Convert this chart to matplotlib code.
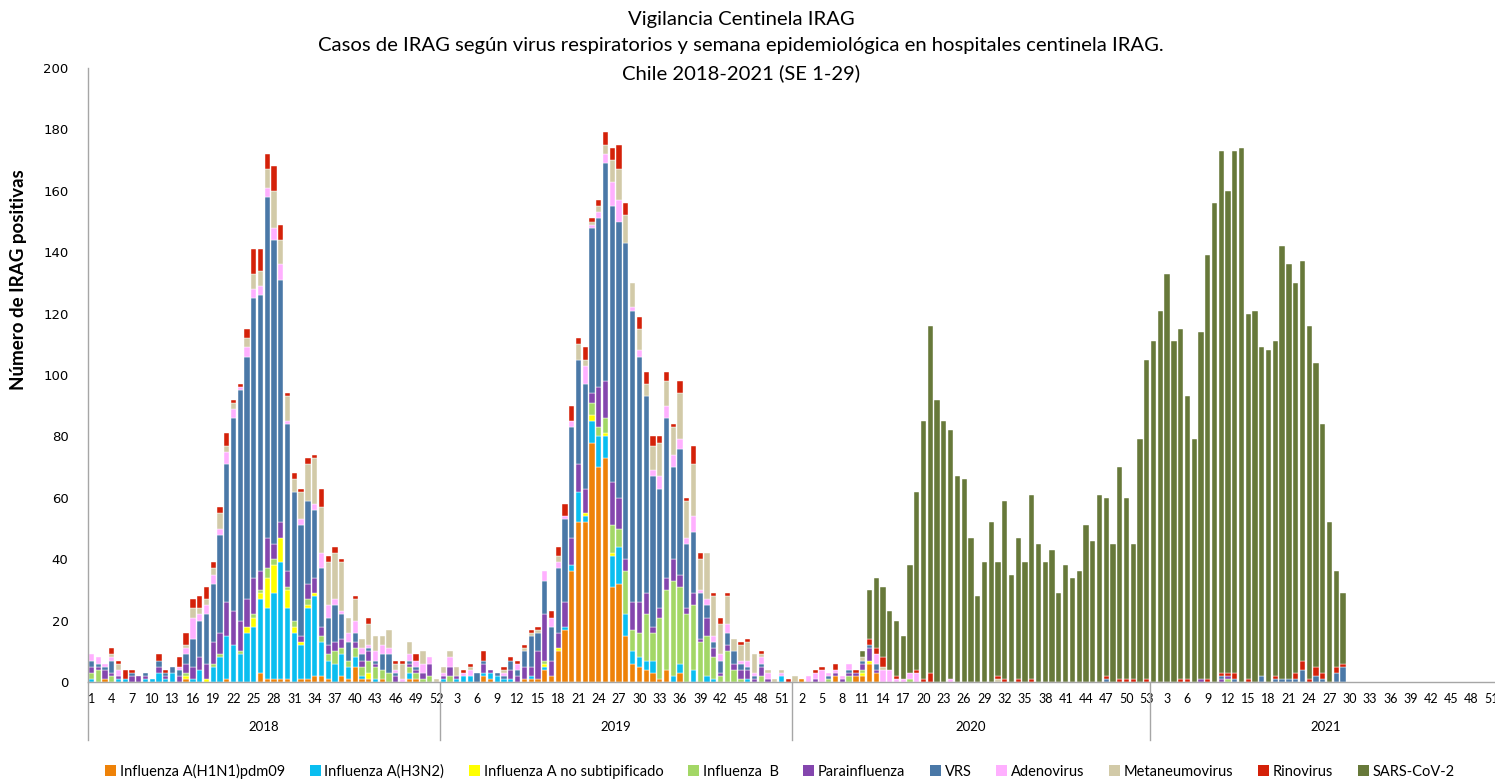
import numpy as np
import matplotlib
matplotlib.use('Agg')
import matplotlib.pyplot as plt
from matplotlib.patches import Patch

plt.rcParams['font.family'] = ['Lato', 'DejaVu Sans']

# years shown on the x axis and how many epidemiological weeks each one has
years = ['2018', '2019', '2020', '2021']
weeks_in_year = [52, 52, 53, 52]

series_names = ['Influenza A(H1N1)pdm09', 'Influenza A(H3N2)', 'Influenza A no subtipificado',
                'Influenza  B', 'Parainfluenza', 'VRS', 'Adenovirus', 'Metaneumovirus',
                'Rinovirus', 'SARS-CoV-2']
colors = ['#EE8208', '#0ABEF0', '#FFFF00', '#A3D766', '#8446AE', '#4A78A7',
          '#FFB0FF', '#D2CAA8', '#D42109', '#67793A']

# weekly positive cases, 2018 SE1 .. 2021 SE29 (one row per 10 weeks)
h1n1 = [
    # 2018
    0, 0, 1, 0, 0, 0, 0, 0, 0, 0,
    0, 0, 0, 0, 1, 0, 0, 0, 0, 0,
    1, 0, 0, 0, 0, 3, 1, 1, 1, 1,
    0, 1, 1, 2, 2, 1, 0, 2, 1, 5,
    1, 1, 0, 1, 0, 0, 0, 1, 1, 0,
    0, 0,
    # 2019
    0, 0, 0, 0, 0, 0, 2, 1, 0, 0,
    0, 0, 1, 1, 1, 4, 2, 10, 17, 36,
    52, 52, 78, 70, 73, 31, 32, 15, 6, 5,
    4, 3, 1, 4, 0, 3, 0, 0, 0, 0,
    0, 0, 0, 0, 0, 0, 0, 0, 0, 0,
    0, 0,
    # 2020
    0, 1, 0, 0, 0, 0, 2, 0, 0, 2,
    2, 6, 3, 0, 0, 0, 0, 0, 0, 0,
    0, 0, 0, 0, 0, 0, 0, 0, 0, 0,
    0, 0, 0, 0, 0, 0, 0, 0, 0, 0,
    0, 0, 0, 0, 0, 0, 0, 0, 0, 0,
    0, 0, 0,
    # 2021
    0, 0, 0, 0, 0, 0, 0, 0, 0, 0,
    0, 0, 0, 0, 0, 0, 0, 0, 0, 0,
    0, 0, 0, 0, 0, 0, 0, 0, 0,
]

h3n2 = [
    1, 0, 0, 0, 1, 1, 0, 0, 1, 1,
    3, 1, 3, 0, 0, 1, 4, 0, 5, 8,
    14, 12, 9, 16, 18, 24, 23, 28, 38, 23,
    16, 11, 23, 26, 11, 6, 6, 7, 4, 3,
    1, 0, 1, 0, 0, 0, 0, 2, 0, 0,
    0, 0,
    1, 0, 1, 2, 2, 0, 1, 2, 2, 1,
    1, 0, 0, 1, 0, 1, 0, 0, 1, 2,
    10, 2, 7, 10, 7, 10, 12, 7, 4, 3,
    3, 4, 0, 0, 2, 3, 0, 4, 0, 2,
    1, 0, 0, 0, 0, 1, 0, 0, 0, 0,
    2, 0,
    0, 0, 0, 0, 0, 0, 0, 0, 0, 0,
    0, 0, 0, 0, 0, 0, 0, 0, 0, 0,
    0, 0, 0, 0, 0, 0, 0, 0, 0, 0,
    0, 0, 0, 0, 0, 0, 0, 0, 0, 0,
    0, 0, 0, 0, 0, 0, 0, 0, 0, 0,
    0, 0, 0,
    0, 0, 0, 0, 0, 0, 0, 0, 0, 0,
    0, 0, 0, 0, 0, 0, 0, 0, 0, 0,
    0, 0, 0, 0, 0, 0, 0, 0, 0,
]

flu_a_ns = [
    0, 0, 0, 0, 0, 0, 0, 0, 0, 0,
    0, 0, 0, 0, 1, 0, 0, 1, 0, 0,
    0, 0, 0, 2, 3, 2, 10, 9, 8, 6,
    2, 1, 1, 1, 0, 0, 0, 0, 0, 0,
    0, 2, 0, 0, 0, 0, 0, 0, 0, 0,
    0, 0,
    0, 0, 0, 0, 0, 0, 0, 0, 0, 0,
    0, 0, 0, 0, 0, 1, 0, 1, 0, 0,
    0, 1, 2, 0, 1, 1, 0, 0, 0, 0,
    0, 0, 0, 0, 0, 0, 0, 0, 0, 0,
    0, 0, 0, 0, 0, 0, 0, 0, 0, 0,
    0, 0,
    0, 0, 0, 0, 0, 0, 0, 0, 0, 0,
    1, 1, 0, 0, 0, 0, 0, 0, 0, 0,
    0, 0, 0, 0, 0, 0, 0, 0, 0, 0,
    0, 0, 0, 0, 0, 0, 0, 0, 0, 0,
    0, 0, 0, 0, 0, 0, 0, 0, 0, 0,
    0, 0, 0,
    0, 0, 0, 0, 0, 0, 0, 0, 0, 0,
    0, 0, 0, 0, 0, 0, 0, 0, 0, 0,
    0, 0, 0, 0, 0, 0, 0, 0, 0,
]

flu_b = [
    2, 4, 0, 2, 0, 0, 0, 0, 0, 0,
    0, 0, 0, 0, 1, 0, 0, 0, 1, 1,
    0, 0, 1, 0, 1, 1, 3, 2, 0, 1,
    2, 0, 2, 0, 2, 2, 4, 2, 2, 3,
    3, 4, 4, 3, 3, 0, 0, 2, 2, 1,
    2, 0,
    0, 2, 0, 0, 0, 0, 0, 0, 0, 0,
    0, 0, 0, 0, 0, 1, 0, 0, 0, 0,
    0, 0, 4, 3, 5, 9, 6, 14, 7, 8,
    15, 9, 20, 26, 31, 25, 22, 21, 13, 13,
    7, 2, 10, 4, 1, 0, 0, 2, 0, 0,
    0, 0,
    0, 0, 0, 0, 0, 1, 0, 0, 2, 0,
    1, 0, 0, 0, 0, 0, 0, 1, 0, 0,
    0, 0, 0, 0, 0, 0, 0, 0, 0, 0,
    0, 0, 0, 0, 0, 0, 0, 0, 0, 0,
    0, 0, 0, 0, 0, 0, 0, 0, 0, 0,
    0, 0, 0,
    0, 0, 0, 0, 0, 0, 0, 0, 0, 0,
    0, 1, 0, 0, 0, 0, 0, 0, 0, 0,
    0, 0, 0, 0, 0, 0, 0, 0, 0,
]

parainfluenza = [
    2, 1, 3, 1, 1, 0, 2, 2, 1, 0,
    2, 1, 0, 2, 3, 4, 4, 5, 7, 7,
    11, 11, 10, 9, 12, 6, 10, 5, 5, 5,
    0, 2, 5, 5, 3, 3, 3, 3, 0, 2,
    2, 3, 1, 0, 0, 2, 0, 1, 1, 2,
    4, 0,
    1, 3, 1, 0, 0, 0, 3, 1, 0, 0,
    3, 2, 4, 3, 9, 15, 5, 5, 8, 9,
    9, 8, 3, 13, 12, 14, 10, 4, 9, 10,
    7, 2, 3, 4, 7, 4, 2, 4, 1, 6,
    3, 1, 2, 2, 3, 3, 1, 3, 1, 0,
    0, 0,
    0, 0, 0, 1, 0, 0, 1, 1, 1, 1,
    2, 4, 1, 0, 0, 0, 0, 0, 0, 0,
    0, 0, 0, 0, 0, 0, 0, 0, 0, 0,
    0, 0, 0, 0, 0, 0, 0, 0, 0, 0,
    0, 0, 0, 0, 0, 0, 0, 0, 0, 0,
    0, 0, 0,
    0, 0, 0, 0, 0, 0, 0, 1, 0, 0,
    1, 1, 0, 0, 0, 0, 0, 0, 0, 0,
    0, 0, 0, 0, 0, 0, 0, 0, 0,
]

vrs = [
    2, 1, 1, 4, 0, 0, 1, 0, 1, 0,
    2, 1, 2, 2, 3, 9, 12, 16, 19, 32,
    45, 63, 75, 79, 91, 90, 111, 99, 79, 48,
    42, 36, 27, 22, 19, 9, 12, 8, 6, 3,
    2, 1, 1, 5, 6, 1, 0, 1, 1, 0,
    0, 0,
    0, 0, 0, 0, 0, 3, 1, 0, 1, 1,
    3, 2, 5, 10, 6, 11, 11, 21, 27, 36,
    34, 34, 54, 55, 71, 90, 90, 103, 95, 80,
    64, 49, 39, 52, 30, 41, 21, 20, 15, 4,
    2, 4, 4, 4, 2, 1, 1, 1, 0, 0,
    0, 0,
    0, 0, 0, 0, 0, 1, 0, 0, 1, 0,
    1, 1, 2, 0, 0, 0, 0, 0, 0, 0,
    0, 0, 0, 0, 0, 0, 0, 0, 0, 0,
    0, 0, 0, 0, 0, 0, 0, 0, 0, 0,
    0, 0, 0, 0, 0, 0, 1, 0, 0, 0,
    0, 0, 0,
    0, 0, 0, 0, 0, 0, 0, 0, 0, 0,
    1, 0, 1, 0, 0, 0, 2, 0, 1, 1,
    1, 1, 4, 0, 2, 1, 0, 3, 5,
]

adenovirus = [
    2, 2, 1, 1, 2, 0, 0, 0, 0, 0,
    0, 0, 0, 1, 2, 7, 2, 3, 3, 2,
    4, 3, 1, 3, 3, 3, 3, 4, 5, 1,
    0, 2, 0, 2, 5, 4, 2, 1, 3, 4,
    2, 1, 3, 3, 2, 1, 1, 2, 2, 3,
    2, 0,
    1, 3, 0, 1, 2, 0, 0, 0, 0, 1,
    0, 2, 0, 0, 0, 3, 3, 2, 1, 2,
    0, 6, 1, 2, 3, 8, 7, 0, 1, 2,
    0, 2, 4, 4, 4, 3, 2, 5, 1, 2,
    2, 2, 3, 0, 1, 2, 1, 2, 2, 0,
    1, 0,
    0, 0, 2, 2, 4, 1, 1, 1, 2, 0,
    0, 0, 3, 4, 4, 1, 1, 2, 3, 0,
    0, 0, 0, 1, 0, 0, 0, 0, 0, 0,
    0, 0, 0, 0, 0, 0, 0, 0, 0, 0,
    0, 0, 0, 0, 0, 0, 0, 0, 0, 0,
    0, 0, 0,
    0, 0, 0, 0, 0, 0, 0, 0, 0, 0,
    0, 0, 0, 0, 0, 0, 0, 0, 0, 0,
    0, 0, 0, 0, 0, 0, 0, 0, 0,
]

metaneumovirus = [
    0, 0, 0, 1, 2, 0, 0, 0, 0, 0,
    0, 0, 0, 0, 1, 3, 2, 2, 2, 5,
    2, 2, 0, 3, 5, 5, 6, 12, 8, 8,
    4, 9, 12, 15, 15, 14, 15, 16, 5, 7,
    3, 7, 5, 3, 6, 2, 5, 4, 0, 4,
    0, 1,
    2, 2, 3, 0, 1, 0, 0, 0, 0, 1,
    0, 0, 1, 1, 1, 0, 0, 2, 0, 0,
    5, 2, 1, 2, 3, 7, 10, 9, 8, 7,
    4, 8, 11, 8, 9, 15, 12, 17, 10, 15,
    13, 10, 9, 4, 5, 6, 6, 1, 1, 1,
    1, 0,
    2, 0, 0, 0, 0, 0, 0, 0, 0, 0,
    1, 0, 0, 1, 0, 0, 0, 0, 0, 0,
    0, 0, 0, 0, 0, 0, 0, 0, 0, 0,
    1, 0, 0, 0, 0, 0, 0, 0, 0, 0,
    0, 0, 0, 0, 0, 0, 0, 0, 0, 0,
    0, 0, 0,
    0, 0, 0, 0, 0, 0, 0, 0, 0, 0,
    0, 0, 0, 0, 0, 0, 0, 0, 0, 0,
    0, 0, 0, 0, 0, 0, 0, 0, 0,
]

rinovirus = [
    0, 0, 0, 2, 1, 3, 1, 0, 0, 0,
    2, 1, 0, 3, 4, 3, 4, 4, 2, 2,
    4, 1, 1, 3, 8, 7, 5, 8, 5, 1,
    2, 1, 2, 1, 6, 2, 2, 1, 0, 1,
    0, 2, 0, 0, 0, 1, 1, 0, 2, 0,
    0, 0,
    0, 0, 0, 1, 1, 0, 3, 0, 0, 1,
    1, 1, 1, 1, 1, 0, 2, 3, 4, 5,
    2, 4, 1, 2, 4, 4, 8, 4, 0, 4,
    4, 3, 2, 3, 1, 4, 1, 6, 2, 0,
    1, 2, 1, 0, 1, 1, 0, 1, 0, 0,
    0, 1,
    0, 0, 0, 1, 1, 0, 2, 0, 0, 1,
    0, 2, 2, 3, 0, 1, 0, 0, 1, 1,
    3, 0, 0, 0, 0, 0, 0, 0, 0, 0,
    1, 1, 0, 1, 0, 1, 0, 0, 0, 0,
    0, 0, 0, 0, 0, 0, 1, 0, 1, 1,
    1, 0, 1,
    0, 0, 0, 0, 1, 1, 0, 0, 1, 0,
    1, 1, 2, 0, 1, 0, 0, 0, 1, 0,
    0, 2, 3, 1, 3, 2, 0, 2, 1,
]

sars_cov_2 = [
    0, 0, 0, 0, 0, 0, 0, 0, 0, 0,
    0, 0, 0, 0, 0, 0, 0, 0, 0, 0,
    0, 0, 0, 0, 0, 0, 0, 0, 0, 0,
    0, 0, 0, 0, 0, 0, 0, 0, 0, 0,
    0, 0, 0, 0, 0, 0, 0, 0, 0, 0,
    0, 0,
    0, 0, 0, 0, 0, 0, 0, 0, 0, 0,
    0, 0, 0, 0, 0, 0, 0, 0, 0, 0,
    0, 0, 0, 0, 0, 0, 0, 0, 0, 0,
    0, 0, 0, 0, 0, 0, 0, 0, 0, 0,
    0, 0, 0, 0, 0, 0, 0, 0, 0, 0,
    0, 0,
    0, 0, 0, 0, 0, 0, 0, 0, 0, 0,
    2, 16, 23, 23, 19, 18, 14, 35, 58, 84,
    113, 92, 85, 81, 67, 66, 47, 28, 39, 52,
    37, 58, 35, 46, 39, 60, 45, 39, 43, 29,
    38, 34, 36, 51, 46, 61, 58, 45, 69, 59,
    44, 79, 104,
    111, 121, 133, 111, 114, 92, 79, 113, 138, 156,
    170, 157, 170, 174, 119, 121, 107, 108, 109, 141,
    135, 127, 130, 115, 99, 81, 52, 31, 23,
]

all_series = [h1n1, h3n2, flu_a_ns, flu_b, parainfluenza, vrs,
              adenovirus, metaneumovirus, rinovirus, sars_cov_2]

# category labels: week numbers of every year
week_labels = []
for n in weeks_in_year:
    week_labels += [str(w) for w in range(1, n + 1)]
n_cat = len(week_labels)
x = np.arange(n_cat)
n_data = len(h1n1)

W, H = 1495, 780
fig = plt.figure(figsize=(W / 100, H / 100), dpi=100)
ax = fig.add_axes([88 / W, 98 / H, 1414 / W, 614 / H])

bottom = np.zeros(n_data)
for vals, col in zip(all_series, colors):
    vals = np.array(vals, dtype=float)
    m = vals > 0
    ax.bar(x[:n_data][m], vals[m], width=0.78, bottom=bottom[m], color=col,
           edgecolor='white', linewidth=0.3)
    bottom += vals

ax.set_xlim(-0.5, n_cat - 0.5)
ax.set_ylim(0, 200)
ax.set_yticks(range(0, 201, 20))
ax.set_yticklabels([str(v) for v in range(0, 201, 20)], family='DejaVu Sans', fontsize=9.5)
ax.set_xticks(x[::3])
ax.set_xticklabels(week_labels[::3], fontsize=9)
ax.tick_params(axis='y', length=0, pad=14)
ax.tick_params(axis='x', length=0, pad=8)

for s in ['top', 'right']:
    ax.spines[s].set_visible(False)
for s in ['left', 'bottom']:
    ax.spines[s].set_color('#A6A6A6')
    ax.spines[s].set_linewidth(1)

# year groups below the week labels
edges = np.concatenate([[0], np.cumsum(weeks_in_year)]) - 0.5
for e in edges[:-1]:
    ax.plot([e, e], [0, -0.094], transform=ax.get_xaxis_transform(),
            color='#A6A6A6', lw=1, clip_on=False)
for i, yr in enumerate(years):
    ax.text((edges[i] + edges[i + 1]) / 2, -0.073, yr, transform=ax.get_xaxis_transform(),
            ha='center', va='center', fontsize=9.5)

ax.set_ylabel('Número de IRAG positivas', fontsize=13.5, fontweight='bold')
ax.yaxis.set_label_coords((27 - 88) / 1414, (682 - 280) / 614)

title_lines = ['Vigilancia Centinela IRAG',
               'Casos de IRAG según virus respiratorios y semana epidemiológica en hospitales centinela IRAG.',
               'Chile 2018-2021 (SE 1-29)']
for yy, line in zip([19, 46, 73], title_lines):
    fig.text(741 / W, 1 - yy / H, line, ha='center', va='center', fontsize=14.6)

handles = [Patch(facecolor=c, edgecolor='none') for c in colors]
fig.legend(handles, series_names, ncol=10, loc='center', bbox_to_anchor=(780 / W, 1 - 771 / H),
           frameon=False, fontsize=10.5, handlelength=0.75, handleheight=0.75,
           handletextpad=0.25, columnspacing=1.7)

fig.savefig('out.png', dpi=100)
